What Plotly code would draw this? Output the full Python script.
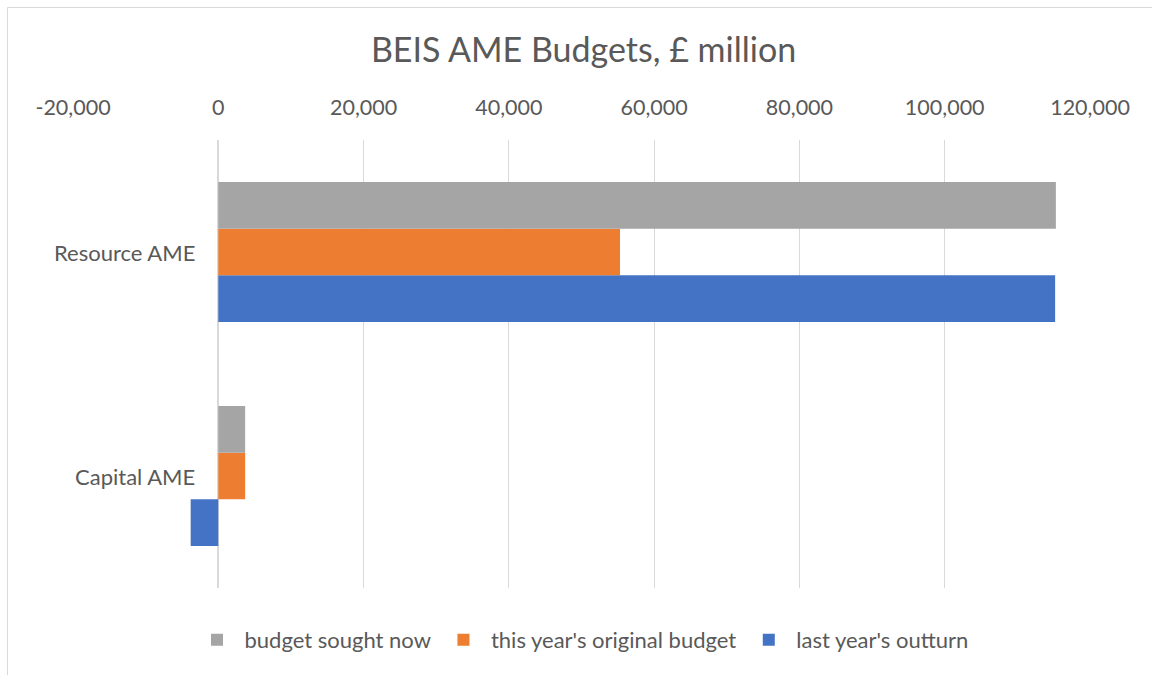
import plotly.graph_objects as go

categories = ["Capital AME", "Resource AME"]
series_names = ["last year's outturn", "this year's original budget", "budget sought now"]
last_year_outturn = [-3800, 115200]
this_year_original = [3700, 55300]
budget_sought_now = [3700, 115300]
series_values = [last_year_outturn, this_year_original, budget_sought_now]
series_colors = ["#4472C4", "#ED7D31", "#A5A5A5"]
tick_values = [-20000, 0, 20000, 40000, 60000, 80000, 100000, 120000]
tick_labels = ["-20,000", "0", "20,000", "40,000", "60,000", "80,000", "100,000", "120,000"]
title_text = "BEIS AME Budgets, £ million"

FONT = "Lato"
TXT = "#595959"
GRID = "#D9D9D9"

fig = go.Figure()
for name, vals, col in zip(series_names, series_values, series_colors):
    fig.add_trace(go.Bar(
        y=categories, x=vals, name=name, orientation="h",
        marker=dict(color=col, line=dict(width=0)),
    ))

annotations = [
    dict(x=0, y=c, xref="x", yref="y", text=c, showarrow=False,
         xanchor="right", yanchor="middle", xshift=-21,
         font=dict(family=FONT, size=22, color=TXT))
    for c in categories
]

fig.update_layout(
    width=1152, height=675, autosize=False,
    paper_bgcolor="white", plot_bgcolor="white",
    margin=dict(l=73, r=62, t=140, b=87),
    barmode="group", bargap=0.375, bargroupgap=0,
    title=dict(text=title_text, x=0.502, xref="paper", xanchor="center",
               y=1 - 50 / 675, yanchor="middle",
               font=dict(family=FONT, size=34, color=TXT)),
    font=dict(family=FONT, size=22, color=TXT),
    xaxis=dict(side="top", range=[-20000, 120000], tickvals=tick_values,
               ticktext=tick_labels, showgrid=True, gridcolor=GRID, gridwidth=1,
               zeroline=True, zerolinecolor=GRID, zerolinewidth=1.5,
               showline=False, ticks="", ticklabelstandoff=20,
               tickfont=dict(family=FONT, size=21.5, color=TXT), fixedrange=True),
    yaxis=dict(categoryorder="array", categoryarray=categories,
               range=[-0.5, 1.5], showticklabels=False, showgrid=False,
               zeroline=False, showline=False, ticks="", fixedrange=True),
    legend=dict(orientation="h", traceorder="reversed", x=0.5, xanchor="center",
                y=-52 / 448, yanchor="middle", itemwidth=45,
                font=dict(family=FONT, size=22, color=TXT)),
    annotations=annotations,
    shapes=[dict(type="rect", xref="paper", yref="paper",
                 x0=(7.5 - 73) / 1017, x1=1.2, y0=-0.5, y1=1 + (140 - 7.5) / 448,
                 line=dict(color=GRID, width=1), fillcolor="rgba(0,0,0,0)", layer="below")],
)

fig.write_html("out.html", config={"displayModeBar": False},
               post_script="document.body.style.margin='0';document.body.style.overflow='hidden';")
